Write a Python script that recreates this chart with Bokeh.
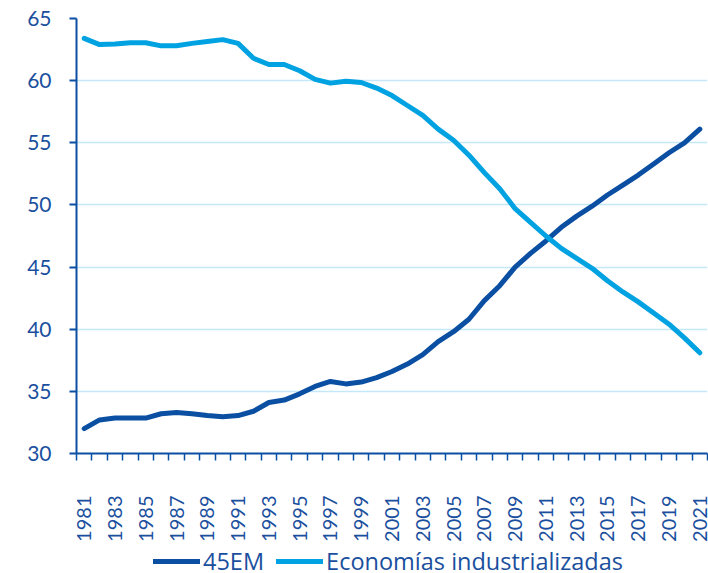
import math
from bokeh.plotting import figure
from bokeh.layouts import column
from bokeh.models import Range1d, FixedTicker, Legend, LegendItem
from bokeh.embed import file_html
from bokeh.resources import INLINE

years = list(range(1981, 2022))
em45 = [32.0, 32.7, 32.85, 32.85, 32.85, 33.2, 33.3, 33.2, 33.05, 32.95,
        33.05, 33.4, 34.1, 34.3, 34.8, 35.4, 35.8, 35.6, 35.75, 36.1,
        36.6, 37.2, 37.95, 39.0, 39.8, 40.8, 42.3, 43.5, 45.0, 46.1,
        47.1, 48.2, 49.1, 49.9, 50.8, 51.6, 52.4, 53.3, 54.2, 55.0,
        56.1]
industrial = [63.4, 62.9, 62.95, 63.05, 63.05, 62.8, 62.8, 63.0, 63.15, 63.3,
              63.0, 61.8, 61.3, 61.3, 60.8, 60.1, 59.8, 59.95, 59.85, 59.4,
              58.8, 58.0, 57.2, 56.1, 55.2, 54.0, 52.6, 51.3, 49.7, 48.6,
              47.5, 46.5, 45.7, 44.9, 43.9, 43.0, 42.2, 41.3, 40.4, 39.3,
              38.1]
y_ticks = [30, 35, 40, 45, 50, 55, 60, 65]
x_tick_labels = [str(y) for y in years if y % 2 == 1]
series_names = ["45EM", "Economías industrializadas"]

DARK = "#0B4FA3"
LIGHT = "#00A2E1"
TEXT = "#1A4F9E"
GRID = "#C4E8F8"
FONT = "Lato"

p = figure(frame_width=631, frame_height=435, output_backend="svg",
           toolbar_location=None,
           x_range=Range1d(years[0] - 0.5, years[-1] + 0.5),
           y_range=Range1d(30, 65),
           min_border_left=76, min_border_right=1, min_border_top=18,
           min_border_bottom=91)
p.outline_line_color = None
p.xgrid.grid_line_color = None
p.ygrid.grid_line_color = GRID
p.ygrid.grid_line_width = 1.5
p.ygrid.ticker = FixedTicker(ticks=y_ticks)

# y axis
ya = p.yaxis[0]
ya.ticker = FixedTicker(ticks=y_ticks)
ya.axis_line_color = DARK
ya.axis_line_width = 2
ya.major_tick_line_color = DARK
ya.major_tick_line_width = 2
ya.major_tick_out = 7
ya.major_tick_in = 0
ya.minor_tick_line_color = None
ya.major_label_standoff = 18
ya.major_label_text_font = FONT
ya.major_label_text_font_size = "21px"
ya.major_label_text_color = TEXT

# x axis
xa = p.xaxis[0]
xa.ticker = FixedTicker(ticks=[int(t) for t in x_tick_labels],
                        minor_ticks=[y - 0.5 for y in years] + [years[-1] + 0.5])
xa.major_label_overrides = {int(t): t for t in x_tick_labels}
xa.axis_line_color = DARK
xa.axis_line_width = 2
xa.major_tick_out = 0
xa.major_tick_in = 0
xa.major_tick_line_color = None
xa.minor_tick_out = 7
xa.minor_tick_in = 0
xa.minor_tick_line_color = DARK
xa.minor_tick_line_width = 1.5
xa.major_label_orientation = math.pi / 2
xa.major_label_standoff = 35
xa.major_label_text_font = FONT
xa.major_label_text_font_size = "20px"
xa.major_label_text_color = TEXT

p.line(years, em45, line_width=5, line_color=DARK,
       line_cap="round", line_join="round")
p.line(years, industrial, line_width=5, line_color=LIGHT,
       line_cap="round", line_join="round")

# legend strip
lg = figure(width=708, height=29, output_backend="svg", toolbar_location=None,
            x_axis_type=None, y_axis_type=None,
            x_range=Range1d(0, 1), y_range=Range1d(0, 1),
            min_border_left=0, min_border_right=0,
            min_border_top=0, min_border_bottom=0)
lg.outline_line_color = None
lg.xgrid.grid_line_color = None
lg.ygrid.grid_line_color = None
d1 = lg.line([-5, -4], [-5, -4], line_width=5, line_color=DARK, line_cap="round")
d2 = lg.line([-5, -4], [-5, -4], line_width=5, line_color=LIGHT, line_cap="round")
legend = Legend(items=[LegendItem(label=series_names[0], renderers=[d1]),
                       LegendItem(label=series_names[1], renderers=[d2])],
                orientation="horizontal", location=(77, -4),
                glyph_width=47, glyph_height=24, label_height=24,
                label_standoff=3, spacing=12, padding=0, margin=0,
                label_text_font="Open Sans", label_text_font_size="23.5px",
                label_text_color=TEXT,
                background_fill_alpha=0, border_line_alpha=0)
lg.add_layout(legend, "center")

layout = column(p, lg, spacing=0)
open("out.html", "w").write(file_html(layout, INLINE))
